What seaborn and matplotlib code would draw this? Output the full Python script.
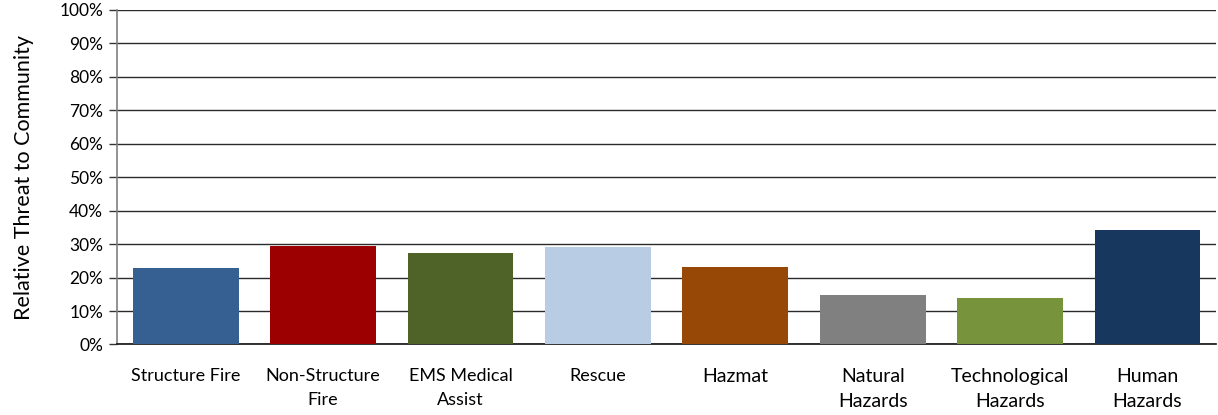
import matplotlib
matplotlib.use("Agg")
import matplotlib.pyplot as plt
import seaborn as sns
import pandas as pd
from matplotlib.ticker import PercentFormatter, FixedLocator

categories = ["Structure Fire", "Non-Structure Fire", "EMS Medical Assist", "Rescue",
              "Hazmat", "Natural Hazards", "Technological Hazards", "Human Hazards"]
tick_labels = ["Structure Fire", "Non-Structure\nFire", "EMS Medical\nAssist", "Rescue",
               "Hazmat", "Natural\nHazards", "Technological\nHazards", "Human\nHazards"]
threat = [22.9, 29.5, 27.4, 29.2, 23.2, 14.8, 13.9, 34.3]
colors = ["#366092", "#9C0000", "#4F6228", "#B8CCE4",
          "#974706", "#808080", "#77933C", "#17375E"]

sns.set_theme(style="white")
plt.rcParams["font.family"] = ["Lato", "DejaVu Sans"]

df = pd.DataFrame({"category": categories, "threat": threat})

fig = plt.figure(figsize=(12.18, 4.15), dpi=100)
ax = fig.add_axes([0.096, 0.170, 0.9025, 0.806])

sns.barplot(data=df, x="category", y="threat", hue="category",
            palette=colors, width=0.77, saturation=1, legend=False, ax=ax,
            zorder=3, linewidth=0)

ax.set_ylim(0, 100)
ax.set_xlim(-0.5, len(categories) - 0.5)
ax.yaxis.set_major_locator(FixedLocator(range(0, 101, 10)))
ax.yaxis.set_major_formatter(PercentFormatter(decimals=0))
ax.grid(axis="y", color="#2a2a2a", linewidth=1.0, zorder=0)
ax.grid(axis="x", visible=False)

# category labels centred under bars, tick marks between categories
ax.set_xticks(range(len(categories)))
ax.set_xticklabels(tick_labels, fontsize=13, color="#000000", linespacing=1.6)
for i, lab in enumerate(ax.get_xticklabels()):
    if i >= 4:
        lab.set_fontsize(14)
ax.tick_params(axis="x", length=0, pad=17)
ax.set_xticks([i + 0.5 for i in range(-1, len(categories))], minor=True)
ax.tick_params(axis="x", which="minor", length=6, width=1, color="#333333", direction="out")
ax.tick_params(axis="y", length=6, width=1, color="#333333", direction="out",
               labelsize=12.5, labelcolor="#000000", pad=4, left=True)

for side in ["top", "right"]:
    ax.spines[side].set_visible(False)
ax.spines["left"].set_color("#7f7f7f")
ax.spines["left"].set_linewidth(1.2)
ax.spines["bottom"].set_color("#111111")
ax.spines["bottom"].set_linewidth(1.2)

ax.set_xlabel("")
ax.set_ylabel("Relative Threat to Community", fontsize=15.5, color="#000000", labelpad=18)

fig.savefig("out.png", dpi=100)
